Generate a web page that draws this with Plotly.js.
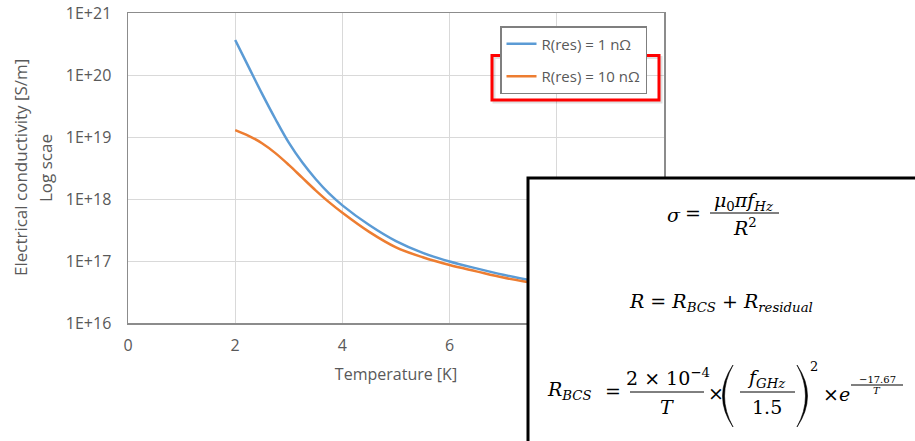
<!DOCTYPE html>
<html>
<head>
<meta charset="utf-8">
<script src="https://cdn.plot.ly/plotly-3.0.1.min.js"></script>
<style>
  html, body { margin: 0; padding: 0; background: #fff; }
  #chart { width: 915px; height: 441px; }
</style>
</head>
<body>
<div id="chart"></div>
<script>
// Temperature [K] sample points and conductivity [S/m] for each residual resistance
const tempLow = [2, 2.25, 2.5, 2.75, 3, 3.25, 3.5, 3.75, 4, 4.5, 5, 5.5, 6, 6.5, 7, 7.5, 8, 9, 10];
const sigmaLow = [3.67e20, 1.35e20, 5.0e19, 1.95e19, 8.1e18, 3.9e18, 2.1e18, 1.23e18, 7.9e17,
                  3.8e17, 2.09e17, 1.35e17, 9.8e16, 7.6e16, 6.0e16, 4.9e16, 4.2e16, 3.2e16, 2.5e16];

const tempHigh = [2, 2.25, 2.5, 2.75, 3, 3.25, 3.5, 3.75, 4, 4.5, 5, 5.5, 6, 6.5, 7, 7.5, 8, 9, 10];
const sigmaHigh = [1.29e19, 1.047e19, 7.94e18, 5.5e18, 3.55e18, 2.21e18, 1.38e18, 8.9e17, 6.0e17,
                   2.95e17, 1.66e17, 1.15e17, 8.6e16, 6.8e16, 5.4e16, 4.5e16, 3.8e16, 2.95e16, 2.35e16];

const seriesNames = ['R(res) = 1 n\u03A9', 'R(res) = 10 n\u03A9'];
const xTicks = [0, 2, 4, 6, 8, 10];
const yTicks = [1e16, 1e17, 1e18, 1e19, 1e20, 1e21];
const yTickText = ['1E+16', '1E+17', '1E+18', '1E+19', '1E+20', '1E+21'];

// plot-area edges in pixels, used to place the formula panel in paper units
const L = 128, R = 664, T = 13, B = 323;
const fx = p => (p - L) / (R - L);
const fy = p => (B - p) / (B - T);

const grey = '#595959';
const sans = 'Open Sans, Noto Sans, sans-serif';
const serif = 'DejaVu Serif, Liberation Serif, serif';

const traces = [
  {
    x: tempLow, y: sigmaLow, name: seriesNames[0], legendgroup: 'a',
    type: 'scatter', mode: 'lines',
    line: { color: '#5b9bd5', width: 2.5, shape: 'spline', smoothing: 1 }
  },
  {
    x: tempHigh, y: sigmaHigh, name: seriesNames[1], legendgroup: 'b',
    type: 'scatter', mode: 'lines',
    line: { color: '#ed7d31', width: 2.5, shape: 'spline', smoothing: 1 }
  }
];

function txt(text, x, y, size, extra) {
  return Object.assign({
    text: text, xref: 'paper', yref: 'paper', x: fx(x), y: fy(y),
    xanchor: 'center', yanchor: 'middle', showarrow: false,
    font: { family: serif, size: size, color: '#000' }
  }, extra || {});
}
function bar(x0, x1, y) {
  return { type: 'line', xref: 'paper', yref: 'paper', layer: 'above',
    x0: fx(x0), x1: fx(x1), y0: fy(y), y1: fy(y),
    line: { color: '#000', width: 1 } };
}
// tall parenthesis as a filled crescent: ends at (xe, top/bottom), bulge toward xo / xi
function paren(xe, xo, xi, top, bottom) {
  const m = (top + bottom) / 2;
  const p = (x, y) => fx(x) + ',' + fy(y);
  return { type: 'path', xref: 'paper', yref: 'paper', layer: 'above',
    path: 'M' + p(xe, top) + ' Q' + p(xo, m) + ' ' + p(xe, bottom) +
          ' Q' + p(xi, m) + ' ' + p(xe, top) + ' Z',
    fillcolor: '#000', line: { color: '#000', width: 0.6 } };
}

const shapes = [
  // shadow and red frame around the second legend entry
  { type: 'rect', xref: 'paper', yref: 'paper', layer: 'above',
    x0: fx(494), x1: fx(661), y0: fy(102), y1: fy(57.5),
    line: { color: 'rgba(0,0,0,0.12)', width: 3 } },
  { type: 'rect', xref: 'paper', yref: 'paper', layer: 'above',
    x0: fx(492), x1: fx(659), y0: fy(100), y1: fy(55.5),
    line: { color: '#ff0000', width: 3 } },
  // formula panel
  { type: 'rect', xref: 'paper', yref: 'paper', layer: 'above',
    x0: fx(528), x1: fx(930), y0: fy(460), y1: fy(178),
    fillcolor: '#ffffff', line: { color: '#000', width: 3 } },
  // fraction bars
  bar(710, 779, 213),
  bar(630, 704, 392),
  bar(740, 795, 392),
  bar(851, 903, 385),
  // large parentheses around f_GHz / 1.5
  paren(733, 712, 716, 365, 427),
  paren(797, 818, 814, 365, 427)
];

const annotations = [
  // y-axis title, two lines
  txt('Electrical conductivity [S/m]', 20, 168, 17,
    { textangle: -90, font: { family: sans, size: 17, color: grey } }),
  txt('Log scae', 45, 168, 17,
    { textangle: -90, font: { family: sans, size: 17, color: grey } }),

  // sigma = mu0 pi f / R^2
  txt('<i>\u03C3</i>', 674, 215, 19),
  txt('=', 693, 213, 19),
  txt('<i>\u03BC</i><sub>0</sub><i>\u03C0f</i><sub><i>Hz</i></sub>', 744, 202, 19),
  txt('<i>R</i><sup>2</sup>', 745, 227, 19),

  // R = R_BCS + R_residual
  txt('<i>R</i> = <i>R</i><sub><i>BCS</i></sub> + <i>R</i><sub><i>residual</i></sub>', 721, 302, 19),

  // R_BCS expression
  txt('<i>R</i><sub><i>BCS</i></sub>', 569, 391, 19),
  txt('=', 613, 391, 19),
  txt('2 \u00D7 10<sup>\u22124</sup>', 668, 377, 19),
  txt('<i>T</i>', 667, 407, 19),
  txt('\u00D7', 716, 393, 19),
  txt('<i>f</i><sub><i>GHz</i></sub>', 766, 378, 19),
  txt('1.5', 767, 407, 19),
  txt('2', 814, 366, 13),
  txt('\u00D7', 831, 394, 19),
  txt('<i>e</i>', 844, 394, 19),
  txt('\u221217.67', 877, 379, 10),
  txt('<i>T</i>', 877, 391, 10)
];

const layout = {
  width: 915, height: 441,
  margin: { l: L, r: 915 - R, t: T, b: 441 - B, pad: 0 },
  paper_bgcolor: '#fff', plot_bgcolor: '#fff',
  showlegend: true,
  legend: {
    x: fx(500), y: fy(26), xanchor: 'left', yanchor: 'top',
    bgcolor: '#fff', bordercolor: '#7f7f7f', borderwidth: 1.5,
    font: { family: sans, size: 15, color: grey },
    traceorder: 'grouped', tracegroupgap: 10
  },
  xaxis: {
    range: [0, 10], tickvals: xTicks, ticktext: xTicks.map(String),
    showgrid: true, gridcolor: '#d9d9d9', gridwidth: 1, zeroline: false,
    showline: true, linecolor: '#8c8c8c', linewidth: 1.5, mirror: true,
    ticks: '', ticklabelstandoff: 7,
    tickfont: { family: sans, size: 16, color: grey },
    title: { text: 'Temperature [K]', font: { family: sans, size: 16, color: grey }, standoff: 14 }
  },
  yaxis: {
    type: 'log', range: [16, 21], tickvals: yTicks, ticktext: yTickText,
    showgrid: true, gridcolor: '#d9d9d9', gridwidth: 1, zeroline: false,
    showline: true, linecolor: '#8c8c8c', linewidth: 1.5, mirror: true,
    ticks: '', ticklabelstandoff: 12,
    tickfont: { family: sans, size: 16, color: grey }
  },
  shapes: shapes,
  annotations: annotations
};

Plotly.newPlot('chart', traces, layout, { displayModeBar: false, staticPlot: true });
</script>
</body>
</html>
